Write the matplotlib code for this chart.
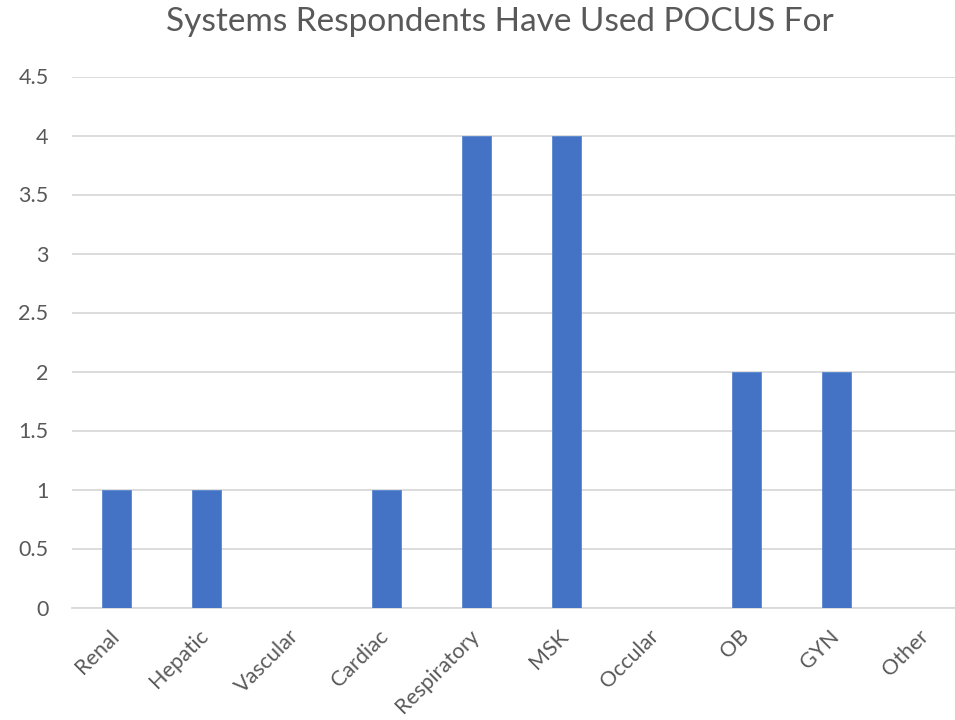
import matplotlib
matplotlib.use("Agg")
import matplotlib.pyplot as plt
from matplotlib.transforms import ScaledTranslation

categories = ["Renal", "Hepatic", "Vascular", "Cardiac", "Respiratory",
              "MSK", "Occular", "OB", "GYN", "Other"]
counts = [1, 1, 0, 1, 4, 4, 0, 2, 2, 0]
y_ticks = [0, 0.5, 1, 1.5, 2, 2.5, 3, 3.5, 4, 4.5]
y_tick_labels = ["0", "0.5", "1", "1.5", "2", "2.5", "3", "3.5", "4", "4.5"]

plt.rcParams["font.family"] = ["Lato", "DejaVu Sans"]
text_grey = "#595959"

fig = plt.figure(figsize=(9.55, 7.2), dpi=100)
ax = fig.add_axes([71.5 / 955, 112.5 / 720, 900 / 955, 531 / 720])

x = list(range(len(categories)))
ax.bar(x, counts, width=0.32, color="#4472C4", edgecolor="#5B86D0",
       linewidth=0.6, zorder=3)

ax.set_xlim(-0.5, len(categories) - 0.5)
ax.set_ylim(0, 4.5)
ax.set_yticks(y_ticks)
ax.set_yticklabels(y_tick_labels)
ax.set_xticks(x)
ax.set_xticklabels(categories, rotation=45, ha="right", rotation_mode="anchor")

ax.yaxis.grid(True, color="#D9D9D9", linewidth=1.3, zorder=0)
ax.tick_params(axis="both", length=0, labelsize=15.5, colors=text_grey)
ax.tick_params(axis="y", pad=16.5)
ax.tick_params(axis="x", pad=9)
shift = ScaledTranslation(-8 / 100, -6 / 100, fig.dpi_scale_trans)
for lbl in ax.get_xticklabels():
    lbl.set_transform(lbl.get_transform() + shift)
for side in ("top", "right", "left"):
    ax.spines[side].set_visible(False)
ax.spines["bottom"].set_color("#D9D9D9")
ax.spines["bottom"].set_linewidth(1.3)

fig.text(500 / 955, 1 - 22 / 720, "Systems Respondents Have Used POCUS For",
         ha="center", va="center", fontsize=24, color=text_grey)

fig.savefig("out.png", dpi=100, facecolor="white")
